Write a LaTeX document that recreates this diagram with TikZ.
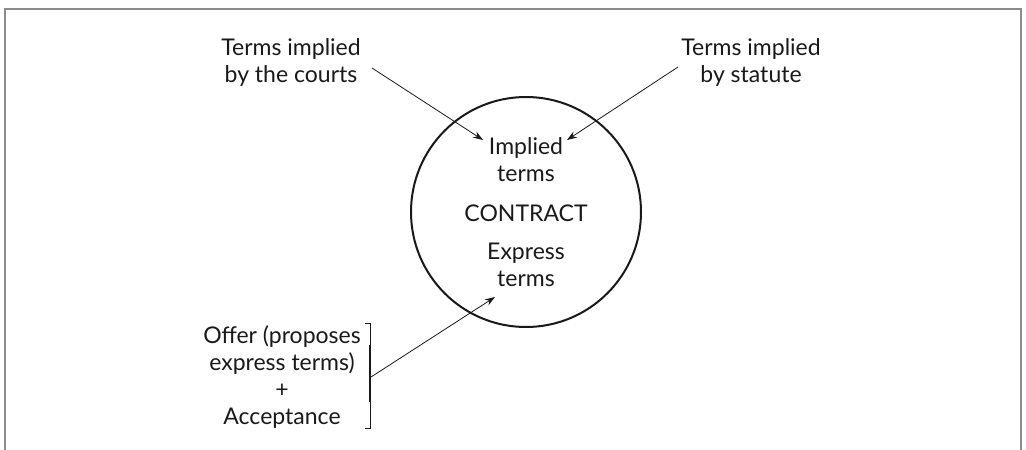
\documentclass[tikz,border=0pt]{standalone}
\usepackage{fontspec}
\setmainfont{Lato}
\usetikzlibrary{arrows.meta}
\begin{document}
\begin{tikzpicture}[x=1pt,y=-1pt,
  lbl/.style={align=center,font=\fontsize{23}{27}\selectfont,inner sep=0pt,text=black!90},
  arr/.style={-{Stealth[length=10pt,width=7pt]},line width=0.8pt,black!90},
  frame/.style={draw=black!45,line width=2pt}]
\useasboundingbox (0,0) rectangle (1026,450);
\draw[frame] (5,450) -- (5,9) -- (1021,9) -- (1021,450);
\node[draw,circle,line width=2pt,minimum size=230pt,black!90] (contract) at (526,212) {};
\node[lbl] (implied) at (526,160) {Implied\\terms};
\node[lbl] (ctext) at (526,213) {CONTRACT};
\node[lbl] (express) at (526,265) {Express\\terms};
\node[lbl] (courts) at (291,63) {Terms implied\\by the courts};
\node[lbl] (statute) at (751,63) {Terms implied\\by statute};
\node[lbl] (offer) at (282,377) {Offer (proposes\\express terms)\\+\\Acceptance};
\coordinate (c1) at (372,68);
\coordinate (c2) at (483,140);
\coordinate (s1) at (678,67);
\coordinate (s2) at (567,140);
\coordinate (o1) at (371,377);
\coordinate (o2) at (495,297);
\coordinate (bt) at (370,323);
\coordinate (bb) at (370,428);
\coordinate (mt) at (370,345);
\coordinate (mb) at (370,402);
\draw[arr] (c1) -- (c2);
\draw[arr] (s1) -- (s2);
\draw[arr] (o1) -- (o2);
\draw[line width=0.8pt,black!90] ([xshift=-5pt]bt) -- (bt) -- (bb) -- ([xshift=-5pt]bb);
\draw[line width=1.8pt,black!90] (mt) -- (mb);
\end{tikzpicture}
\end{document}
